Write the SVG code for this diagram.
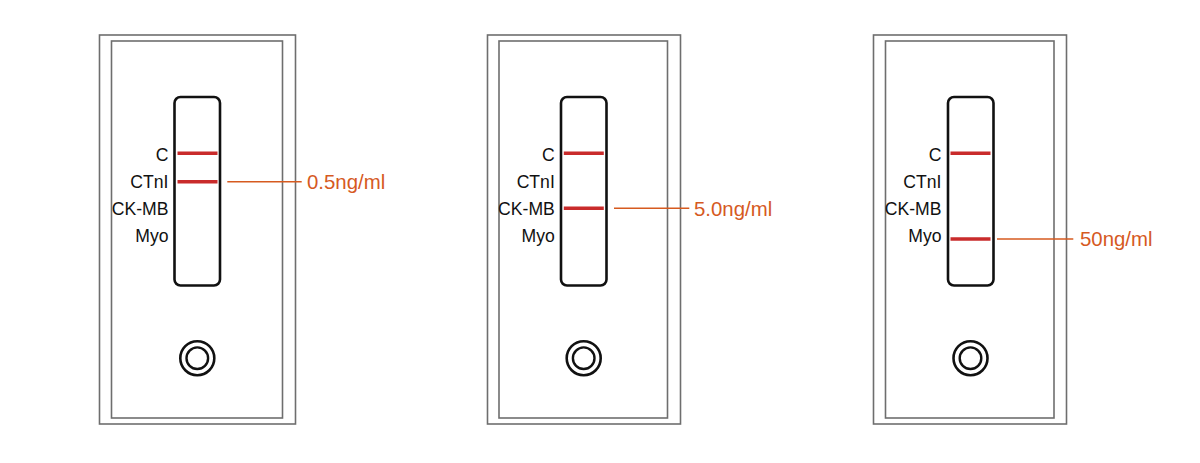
<svg xmlns="http://www.w3.org/2000/svg" width="1200" height="463" viewBox="0 0 1200 463">
<style>
.outer{fill:none;stroke:#6e6e6e;stroke-width:1.6}
.inner{fill:none;stroke:#6e6e6e;stroke-width:1.6}
.strip{fill:#fff;stroke:#111;stroke-width:2.6}
.band{stroke:#c92b2b;stroke-width:3.6}
.lbl{font-family:"Liberation Sans",Arial,sans-serif;font-size:17.6px;fill:#111;text-anchor:end}
.val{font-family:"Liberation Sans",Arial,sans-serif;font-size:20.4px;fill:#d65a1f}
.lead{stroke:#d65a1f;stroke-width:1.5}
.ring{fill:none;stroke:#111}
</style>
<rect width="1200" height="463" fill="#fff"/>
<g id="card1">
<rect class="outer" x="99.5" y="35" width="196" height="389"/>
<rect class="inner" x="111.5" y="41" width="171" height="377"/>
<rect class="strip" x="174.5" y="97" width="45.5" height="188.5" rx="6"/>
<line class="band" x1="177.5" y1="153.3" x2="217.5" y2="153.3"/>
<line class="band" x1="177.5" y1="181.7" x2="217.5" y2="181.7"/>
<text class="lbl" x="168.5" y="161">C</text>
<text class="lbl" x="168.5" y="188">CTnI</text>
<text class="lbl" x="168.5" y="215">CK-MB</text>
<text class="lbl" x="168.5" y="242">Myo</text>
<circle class="ring" cx="197.3" cy="358.2" r="17" stroke-width="2.6"/>
<circle class="ring" cx="197.3" cy="358.2" r="10.8" stroke-width="2.4"/>
</g>
<g id="card2">
<rect class="outer" x="487.5" y="35" width="193" height="389"/>
<rect class="inner" x="499" y="41" width="168.5" height="377"/>
<rect class="strip" x="561" y="97" width="45.5" height="188.5" rx="6"/>
<line class="band" x1="563.8" y1="153.3" x2="603.8" y2="153.3"/>
<line class="band" x1="563.8" y1="208.3" x2="603.8" y2="208.3"/>
<text class="lbl" x="554.8" y="161">C</text>
<text class="lbl" x="554.8" y="188">CTnI</text>
<text class="lbl" x="554.8" y="215">CK-MB</text>
<text class="lbl" x="554.8" y="242">Myo</text>
<circle class="ring" cx="583.7" cy="358.2" r="17" stroke-width="2.6"/>
<circle class="ring" cx="583.7" cy="358.2" r="10.8" stroke-width="2.4"/>
</g>
<g id="card3">
<rect class="outer" x="873.5" y="35" width="193" height="389"/>
<rect class="inner" x="885.5" y="41" width="168.5" height="377"/>
<rect class="strip" x="948" y="97" width="45.5" height="188.5" rx="6"/>
<line class="band" x1="950.5" y1="153.3" x2="990.5" y2="153.3"/>
<line class="band" x1="950.5" y1="239" x2="990.5" y2="239"/>
<text class="lbl" x="941.5" y="161">C</text>
<text class="lbl" x="941.5" y="188">CTnI</text>
<text class="lbl" x="941.5" y="215">CK-MB</text>
<text class="lbl" x="941.5" y="242">Myo</text>
<circle class="ring" cx="970.5" cy="358.2" r="17" stroke-width="2.6"/>
<circle class="ring" cx="970.5" cy="358.2" r="10.8" stroke-width="2.4"/>
</g>
<g id="connectors">
<line class="lead" x1="227.3" y1="181.7" x2="301.7" y2="181.7"/>
<line class="lead" x1="614" y1="208.3" x2="689.3" y2="208.3"/>
<line class="lead" x1="997" y1="239" x2="1073.3" y2="239"/>
</g>
<g id="values">
<text class="val" x="307" y="189">0.5ng/ml</text>
<text class="val" x="694" y="215.6">5.0ng/ml</text>
<text class="val" x="1080" y="246.3">50ng/ml</text>
</g>
</svg>
